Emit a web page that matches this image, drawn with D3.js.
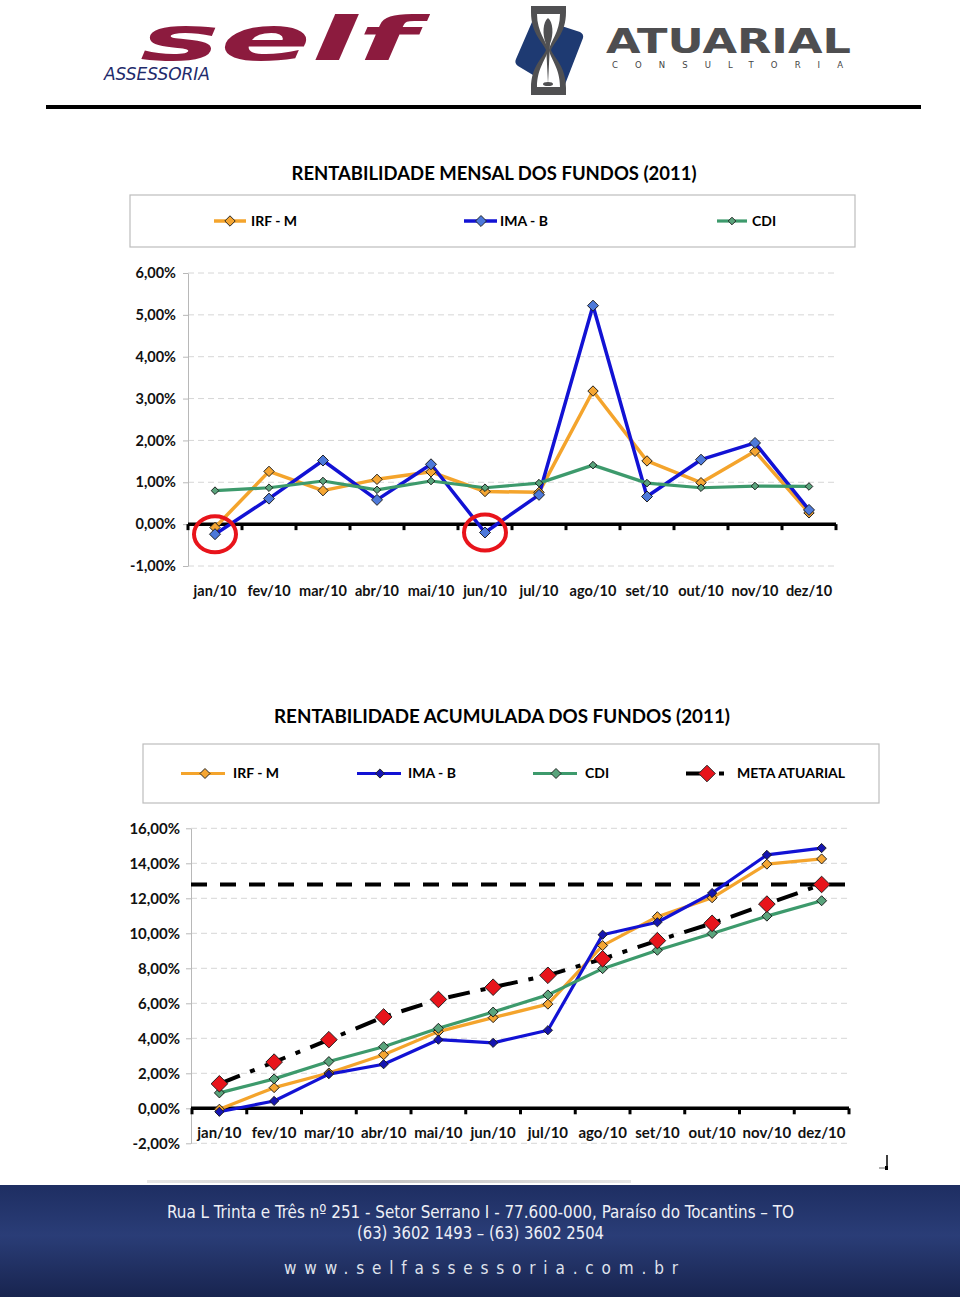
<!DOCTYPE html>
<html><head><meta charset="utf-8">
<script src="https://cdn.jsdelivr.net/npm/d3@7"></script>
<style>body{margin:0;background:#fff}svg{display:block}</style>
</head><body><svg id="c" width="960" height="1304"></svg>
<script>
// ---------------- DATA ----------------
const months = ["jan/10","fev/10","mar/10","abr/10","mai/10","jun/10","jul/10","ago/10","set/10","out/10","nov/10","dez/10"];
const monthlyIRFM = [-0.08,1.26,0.80,1.07,1.25,0.78,0.76,3.18,1.51,0.99,1.74,0.27];
const monthlyIMAB = [-0.24,0.61,1.52,0.58,1.43,-0.20,0.70,5.22,0.66,1.54,1.94,0.34];
const monthlyCDI  = [0.80,0.87,1.03,0.82,1.03,0.87,0.98,1.41,0.98,0.87,0.91,0.90];
const accIRFM = [-0.05,1.18,2.02,3.06,4.38,5.18,5.95,9.30,10.95,12.03,13.95,14.25];
const accIMAB = [-0.20,0.42,1.95,2.52,3.92,3.74,4.46,9.92,10.63,12.30,14.48,14.87];
const accCDI  = [0.88,1.68,2.67,3.52,4.57,5.50,6.48,7.98,9.03,9.99,10.98,11.86];
const accMeta = [1.40,2.64,3.92,5.22,6.22,6.92,7.60,8.54,9.58,10.57,11.67,12.79];
const ticksMonthly = [-1,0,1,2,3,4,5,6];
const ticksAcc = [-2,0,2,4,6,8,10,12,14,16];
const flaggedMonths = ["jan/10","jun/10"];
const title1 = "RENTABILIDADE MENSAL DOS FUNDOS (2011)";
const title2 = "RENTABILIDADE ACUMULADA DOS FUNDOS (2011)";
const seriesNames = ["IRF - M","IMA - B","CDI","META ATUARIAL"];
const footerLines = ["Rua L Trinta e Três nº 251 - Setor Serrano I - 77.600-000, Paraíso do Tocantins – TO","(63) 3602 1493 – (63) 3602 2504","www.selfassessoria.com.br"];

// ---------------- STYLE ----------------
const C = {orange:"#f4a42c", blue:"#1212d4", green:"#3d9a6c", black:"#000",
  oFill:"#f5a633", bFill1:"#4d79da", bFill2:"#1515b0", gFill:"#5aa47c", red:"#e8141b"};
const FONT = "Lato, 'Open Sans', sans-serif";
const svg = d3.select("#c");
svg.append("rect").attr("width",960).attr("height",1304).attr("fill","#fff");
const pct = v => d3.format(".2f")(v).replace("−","-").replace(".",",")+"%";
const diamond = (h) => d3.symbol(d3.symbolSquare, 2*h*h)();

// ---------------- HEADER ----------------
const hdr = svg.append("g");
hdr.append("text").text("self").attr("x",140).attr("y",60)
  .attr("font-family","'DejaVu Sans', sans-serif").attr("font-weight","bold").attr("font-style","italic")
  .attr("font-size",60).attr("fill","#8c1b3e")
  .attr("textLength",276).attr("lengthAdjust","spacingAndGlyphs");
hdr.append("text").text("ASSESSORIA").attr("x",104).attr("y",80)
  .attr("font-family","'Liberation Sans Narrow','DejaVu Sans Condensed',sans-serif").attr("font-style","italic")
  .attr("font-size",18).attr("fill","#1f2b6c").attr("textLength",106).attr("lengthAdjust","spacingAndGlyphs");
// hourglass logo
hdr.append("path").attr("d","M537,18 L580,32 Q584,34 583,38 L564,87 Q562,91 558,90 L518,66 Q514,63 516,59 L532,22 Q534,17 537,18 Z").attr("fill","#1e3a72");
hdr.append("path").attr("d","M531,6 L566,6 L566,12 C566,34 554,42 551,50 C554,58 566,66 566,88 L566,95 L531,95 L531,88 C531,66 543,58 546,50 C543,42 531,34 531,12 Z").attr("fill","#505052");
hdr.append("path").attr("d","M537,14 L560,14 C560,32 550,42 549,50 C550,58 560,68 560,87 L537,87 C537,68 547,58 548,50 C547,42 537,32 537,14 Z").attr("fill","#fff");
hdr.append("path").attr("d","M548,18 C543,22 542,34 546,44 L548,84 L550,44 C554,34 553,22 548,18 Z").attr("fill","#505052");
hdr.append("ellipse").attr("cx",548).attr("cy",84).attr("rx",5).attr("ry",2).attr("fill","#505052");
hdr.append("text").text("ATUARIAL").attr("x",606).attr("y",53)
  .attr("font-family","'DejaVu Sans', sans-serif").attr("font-weight","bold").attr("font-size",33)
  .attr("fill","#4e4e50").attr("textLength",245).attr("lengthAdjust","spacingAndGlyphs");
hdr.append("text").text("CONSULTORIA").attr("x",612).attr("y",68)
  .attr("font-family","'DejaVu Sans', sans-serif").attr("font-size",8.5)
  .attr("fill","#444").attr("textLength",231).attr("lengthAdjust","spacing");
hdr.append("rect").attr("x",46).attr("y",105).attr("width",875).attr("height",4).attr("fill","#000");

// ---------------- CHART FUNCTION ----------------
function drawChart(cfg){
  const g = svg.append("g");
  g.append("text").text(cfg.title).attr("x",cfg.titleX).attr("y",cfg.titleY)
    .attr("text-anchor","middle").attr("font-family",FONT).attr("font-weight","bold")
    .attr("font-size",cfg.titleFs).attr("fill","#000")
    .attr("textLength",cfg.titleW).attr("lengthAdjust","spacingAndGlyphs");
  const lb = cfg.legend;
  g.append("rect").attr("x",lb.x).attr("y",lb.y).attr("width",lb.w).attr("height",lb.h)
    .attr("fill","#fff").attr("stroke","#bdbdbd").attr("stroke-width",1.2);
  lb.items.forEach(it=>{
    const s = cfg.series[it.i];
    const yy = lb.y + lb.h/2;
    g.append("line").attr("x1",it.x).attr("x2",it.x+it.len).attr("y1",yy).attr("y2",yy)
      .attr("stroke",s.color).attr("stroke-width",s.w).attr("stroke-dasharray",s.dash||null);
    g.append("path").attr("d",diamond(s.h)).attr("transform",`translate(${it.mx},${yy}) rotate(45)`)
      .attr("fill",s.fill).attr("stroke","#222").attr("stroke-width",0.9);
    g.append("text").text(s.name).attr("x",it.tx).attr("y",yy).attr("dy","0.35em")
      .attr("font-family",FONT).attr("font-weight","bold").attr("font-size",14).attr("fill","#000");
  });

  const x = d3.scaleBand().domain(months).range([cfg.left,cfg.right]);
  const y = d3.scaleLinear().domain(cfg.domain).range([cfg.bottom,cfg.top]);
  const cx = m => x(m)+x.bandwidth()/2;
  g.append("g").selectAll("line").data(cfg.ticks.filter(t=>t!==0)).join("line")
    .attr("x1",cfg.axisX).attr("x2",cfg.right).attr("y1",d=>y(d)).attr("y2",d=>y(d))
    .attr("stroke","#d6d6d6").attr("stroke-width",1).attr("stroke-dasharray","6,4");
  const ya = g.append("g").attr("transform",`translate(${cfg.axisX},0)`)
    .call(d3.axisLeft(y).tickValues(cfg.ticks).tickFormat(pct).tickSize(5).tickSizeOuter(0).tickPadding(cfg.ypad));
  ya.select(".domain").attr("stroke","#b8b8b8");
  ya.selectAll(".tick line").attr("stroke","#b8b8b8");
  ya.selectAll("text").attr("font-family",FONT).attr("font-weight","bold").attr("font-size",cfg.fs).attr("fill","#111");
  const xa = g.append("g").attr("transform",`translate(0,${y(0)})`)
    .call(d3.axisBottom(x).tickSize(0).tickPadding(cfg.xpad));
  xa.select(".domain").remove();
  xa.selectAll("text").attr("font-family",FONT).attr("font-weight","bold").attr("font-size",cfg.fs).attr("fill","#111");
  const bounds = months.map(m=>x(m)).concat([cfg.right]);
  g.append("g").selectAll("line").data(bounds).join("line")
    .attr("x1",d=>d).attr("x2",d=>d).attr("y1",y(0)).attr("y2",y(0)+6)
    .attr("stroke","#000").attr("stroke-width",3);
  g.append("line").attr("x1",cfg.axisX).attr("x2",cfg.right).attr("y1",y(0)).attr("y2",y(0))
    .attr("stroke","#000").attr("stroke-width",3.5);
  if(cfg.hline!==undefined){
    g.append("line").attr("x1",cfg.axisX).attr("x2",cfg.right+3).attr("y1",y(cfg.hline)).attr("y2",y(cfg.hline))
      .attr("stroke","#000").attr("stroke-width",4).attr("stroke-dasharray","16,13");
  }
  const line = d3.line().x((d,i)=>cx(months[i])).y(d=>y(d));
  cfg.series.forEach(s=>{
    g.append("path").attr("d",line(s.values)).attr("fill","none").attr("stroke",s.color)
      .attr("stroke-width",s.w).attr("stroke-linejoin","round").attr("stroke-dasharray",s.dash||null);
  });
  cfg.series.forEach(s=>{
    g.append("g").selectAll("path").data(s.values).join("path")
      .attr("d",diamond(s.h)).attr("transform",(d,i)=>`translate(${cx(months[i])},${y(d)}) rotate(45)`)
      .attr("fill",s.fill).attr("stroke","#1a1a1a").attr("stroke-width",0.9);
  });
  if(cfg.flags){
    g.append("g").selectAll("ellipse").data(cfg.flags).join("ellipse")
      .attr("cx",d=>cx(d)).attr("cy",d=>y(cfg.series[1].values[months.indexOf(d)]))
      .attr("rx",21).attr("ry",18).attr("fill","none").attr("stroke",C.red).attr("stroke-width",4);
  }
}

drawChart({
  title:title1, titleX:494, titleY:180, titleFs:18, titleW:405,
  legend:{x:130,y:195,w:725,h:52,items:[
    {i:0,x:214,len:32,mx:230,tx:251},{i:1,x:464,len:33,mx:481,tx:500},{i:2,x:717,len:30,mx:732,tx:752}]},
  left:188,right:836,axisX:188,top:273,bottom:566,domain:[-1,6],ticks:ticksMonthly,
  fs:14.5,ypad:7,xpad:62,flags:flaggedMonths,
  series:[
    {name:seriesNames[0],values:monthlyIRFM,color:C.orange,fill:C.oFill,w:3.5,h:5.2},
    {name:seriesNames[1],values:monthlyIMAB,color:C.blue,fill:C.bFill1,w:3.5,h:5.5},
    {name:seriesNames[2],values:monthlyCDI,color:C.green,fill:C.gFill,w:3.2,h:3.8}
  ]
});

drawChart({
  title:title2, titleX:502, titleY:723, titleFs:19, titleW:456,
  legend:{x:143,y:744,w:736,h:59,items:[
    {i:0,x:181,len:44,mx:205,tx:233},{i:1,x:357,len:44,mx:380,tx:408},{i:2,x:533,len:44,mx:556,tx:585},{i:3,x:686,len:41,mx:707,tx:737}]},
  left:192,right:849,axisX:191,top:828.3,bottom:1143.3,domain:[-2,16],ticks:ticksAcc,
  fs:15,ypad:6,xpad:19,hline:accMeta[accMeta.length-1],
  series:[
    {name:seriesNames[0],values:accIRFM,color:C.orange,fill:C.oFill,w:3.2,h:5},
    {name:seriesNames[1],values:accIMAB,color:C.blue,fill:C.bFill2,w:3.2,h:4.6},
    {name:seriesNames[2],values:accCDI,color:C.green,fill:C.gFill,w:3.2,h:5},
    {name:seriesNames[3],values:accMeta,color:"#000",fill:"#e8141b",w:4,h:8.3,dash:"22,11,5,11"}
  ]
});

// small mark
svg.append("path").attr("d","M887,1155 L887,1170").attr("stroke","#000").attr("stroke-width",1.5);
svg.append("path").attr("d","M879,1168 L885,1168").attr("stroke","#999").attr("stroke-width",1.5);
svg.append("rect").attr("x",885).attr("y",1166).attr("width",3).attr("height",4).attr("fill","#000");

// ---------------- FOOTER ----------------
const defs = svg.append("defs");
const lg = defs.append("linearGradient").attr("id","fg").attr("x1",0).attr("y1",0).attr("x2",0).attr("y2",1);
lg.append("stop").attr("offset","0%").attr("stop-color","#1e2e62");
lg.append("stop").attr("offset","45%").attr("stop-color","#2a3d77");
lg.append("stop").attr("offset","100%").attr("stop-color","#18244f");
const lg2 = defs.append("linearGradient").attr("id","gl").attr("x1",0).attr("y1",0).attr("x2",1).attr("y2",0);
lg2.append("stop").attr("offset","0%").attr("stop-color","#e6e6e6");
lg2.append("stop").attr("offset","50%").attr("stop-color","#c4c4c4");
lg2.append("stop").attr("offset","100%").attr("stop-color","#e6e6e6");
svg.append("rect").attr("x",147).attr("y",1180).attr("width",484).attr("height",3).attr("fill","url(#gl)");
svg.append("rect").attr("x",0).attr("y",1185).attr("width",960).attr("height",112).attr("fill","url(#fg)");
const ff = "'Liberation Sans Narrow','DejaVu Sans Condensed',sans-serif";
svg.append("text").text(footerLines[0]).attr("x",167).attr("y",1218).attr("font-family",ff)
  .attr("font-size",18).attr("fill","#eef0f6").attr("textLength",627).attr("lengthAdjust","spacingAndGlyphs");
svg.append("text").text(footerLines[1]).attr("x",357).attr("y",1239).attr("font-family",ff)
  .attr("font-size",18).attr("fill","#eef0f6").attr("textLength",247).attr("lengthAdjust","spacingAndGlyphs");
svg.append("text").text(footerLines[2]).attr("x",284).attr("y",1274).attr("font-family",ff)
  .attr("font-size",17).attr("fill","#dfe2ec").attr("textLength",394).attr("lengthAdjust","spacing");
</script></body></html>
